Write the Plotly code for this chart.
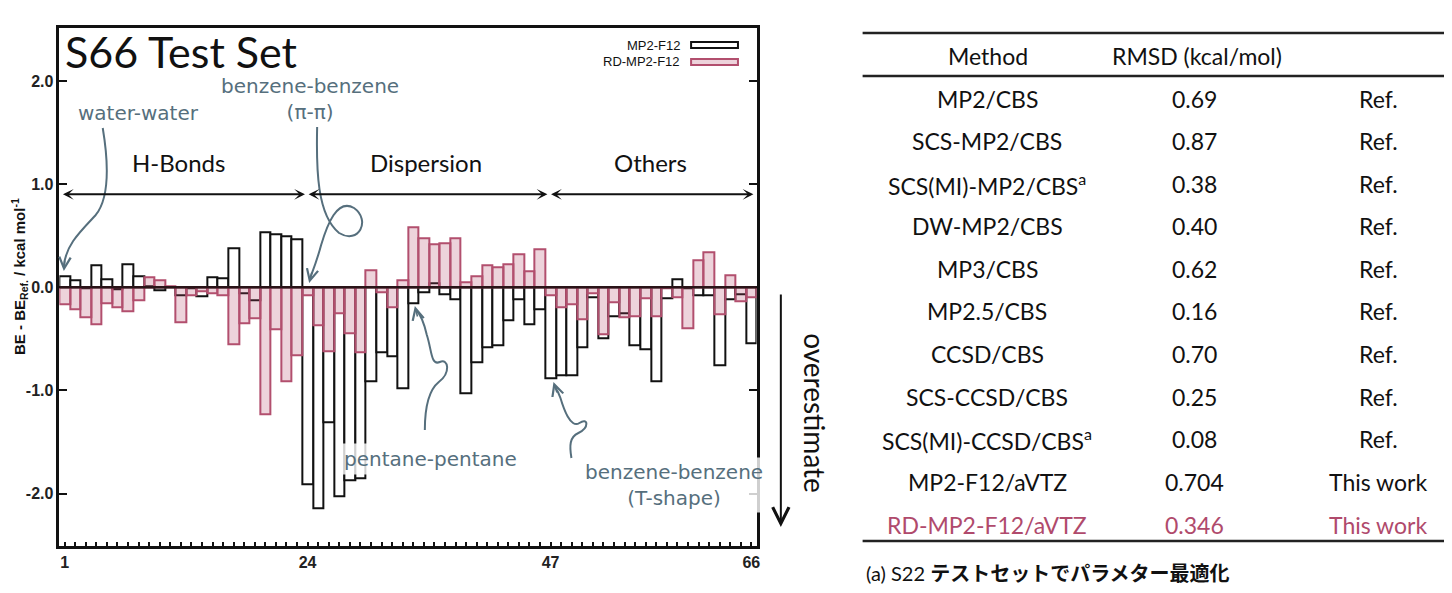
import plotly.graph_objects as go

# The page body has an 8 px margin, so the figure is drawn 8 px in and
# sized so that it fits the 1452x593 window exactly.
OFF = 8
W, H = 1452 - 2 * OFF, 593 - 2 * OFF

# ---------------- data ----------------
system_index = list(range(1, 67))
mp2_f12 = [0.11, 0.07, -0.01, 0.21, 0.08, -0.02, 0.22, 0.11, 0.01, -0.03,
           0.00, -0.08, -0.01, -0.09, 0.10, 0.09, 0.38, -0.06, -0.13, 0.53,
           0.51, 0.49, 0.46, -1.91, -2.14, -1.31, -2.03, -1.87, -1.85, -0.91,
           -0.63, -0.67, -0.98, -0.16, -0.05, 0.04, -0.07, -0.12, -1.03, -0.73,
           -0.58, -0.56, -0.32, -0.12, -0.36, -0.21, -0.88, -0.85, -0.85, -0.58,
           -0.10, -0.50, -0.28, -0.25, -0.56, -0.60, -0.91, -0.11, 0.08, -0.01,
           -0.08, -0.08, -0.76, -0.12, -0.07, -0.54]
rd_mp2_f12 = [-0.17, -0.21, -0.29, -0.36, -0.155, -0.19, -0.23, -0.13, 0.10, 0.07,
              0.01, -0.34, -0.08, -0.04, -0.06, -0.08, -0.55, -0.35, -0.30, -1.23,
              -0.41, -0.91, -0.66, -0.08, -0.37, -0.62, -0.25, -0.45, -0.63, 0.16,
              -0.05, -0.19, 0.07, 0.58, 0.47, 0.42, 0.43, 0.47, 0.05, 0.11,
              0.21, 0.19, 0.22, 0.32, 0.15, 0.37, -0.08, -0.19, -0.17, -0.31,
              -0.06, -0.46, -0.15, -0.29, -0.28, -0.11, -0.28, -0.01, -0.10, -0.40,
              0.26, 0.34, -0.26, 0.12, -0.14, -0.10]
x_tickvals = [1, 24, 47, 66]
y_tickvals = [-2.0, -1.0, 0.0, 1.0, 2.0]
y_ticktext = ["-2.0", "-1.0", "0.0", "1.0", "2.0"]
groups = ["H-Bonds", "Dispersion", "Others"]
group_spans = [(0.7, 23.75), (23.95, 46.7), (46.9, 66.2)]

table_methods = ["MP2/CBS", "SCS-MP2/CBS", "SCS(MI)-MP2/CBS<sup>a</sup>", "DW-MP2/CBS",
                 "MP3/CBS", "MP2.5/CBS", "CCSD/CBS", "SCS-CCSD/CBS",
                 "SCS(MI)-CCSD/CBS<sup>a</sup>", "MP2-F12/aVTZ", "RD-MP2-F12/aVTZ"]
table_rmsd = ["0.69", "0.87", "0.38", "0.40", "0.62", "0.16", "0.70", "0.25",
              "0.08", "0.704", "0.346"]
table_source = ["Ref."] * 9 + ["This work", "This work"]

# ---------------- style ----------------
BLACK = "#111111"
PINK_LINE = "#b24f6e"
PINK_FILL = "rgba(178,70,105,0.24)"
SLATE = "#566f7d"
GILL = "Lato, 'Noto Sans CJK JP', sans-serif"
HAND = "'DejaVu Sans', sans-serif"
ARIAL = "'Liberation Sans', Arial, sans-serif"


def PX(x):
    return (x - OFF) / W


def PY(y):
    return 1 - (y - OFF) / H


def path_px(s):
    parts = []
    for tok in s.split():
        cmd = ""
        if tok[0].isalpha():
            cmd, tok = tok[0], tok[1:]
        xs, ys = tok.split(",")
        parts.append(f"{cmd}{PX(float(xs)):.5f},{PY(float(ys)):.5f}")
    return " ".join(parts)


def text(x, y, t, size, color="#111", family=GILL, xanchor="center", weight=None, **kw):
    f = dict(family=family, size=size, color=color)
    if weight is not None:
        f["weight"] = weight
    return dict(xref="paper", yref="paper", x=PX(x), y=PY(y), text=t,
                showarrow=False, xanchor=xanchor, yanchor="middle", font=f, **kw)


fig = go.Figure()
fig.add_trace(go.Bar(x=system_index, y=mp2_f12, name="MP2-F12", width=1.0,
                     marker=dict(color="white", line=dict(color=BLACK, width=2))))
fig.add_trace(go.Bar(x=system_index, y=rd_mp2_f12, name="RD-MP2-F12", width=1.0,
                     marker=dict(color=PINK_FILL, line=dict(color=PINK_LINE, width=2))))

fig.update_layout(
    width=W, height=H, margin=dict(l=0, r=0, t=0, b=0),
    plot_bgcolor="white", paper_bgcolor="white",
    barmode="overlay", bargap=0, showlegend=False,
    font=dict(family=ARIAL),
    xaxis=dict(domain=[PX(59.5), PX(758.7)], range=[0.5, 66.5],
               tickvals=x_tickvals, ticks="inside", ticklen=4, tickwidth=1.5,
               tickcolor=BLACK, showline=True, linewidth=2.5, linecolor=BLACK,
               mirror=True, showgrid=False, zeroline=False,
               minor=dict(tick0=1, dtick=1, ticks="inside", ticklen=4,
                          tickwidth=1.5, tickcolor=BLACK),
               tickfont=dict(family=ARIAL, size=16, color="#222", weight="bold"),
               layer="above traces"),
    yaxis=dict(domain=[PY(545.7), PY(28.3)], range=[-2.506, 2.51],
               tickvals=y_tickvals, ticktext=y_ticktext, ticks="inside",
               ticklen=8, tickwidth=2, tickcolor=BLACK, showline=True,
               linewidth=2.5, linecolor=BLACK, mirror="ticks", showgrid=False,
               zeroline=False,
               tickfont=dict(family=ARIAL, size=16, color="#222", weight="bold"),
               layer="above traces"),
)

shapes = []
ann = []

# zero line above bars
shapes.append(dict(type="line", xref="x domain", yref="y", x0=0, x1=1, y0=0, y1=0,
                   line=dict(color="#2a1418", width=2.5), layer="above"))

# title
ann.append(text(63, 51, "S66 Test Set", 43, xanchor="left"))

# y title
ann.append(text(19, 276, "<b>BE - BE<sub>Ref.</sub> / kcal mol<sup>-1</sup></b>", 15,
                family=ARIAL, textangle=-90))

# group labels and double arrows
group_centers_px = [179, 427, 652]
for g, (a, b), cx in zip(groups, group_spans, group_centers_px):
    ann.append(dict(xref="x", yref="y", x=b, y=0.90, ax=a, ay=0.90, axref="x",
                    ayref="y", text="", showarrow=True, arrowhead=3,
                    arrowside="end+start", arrowsize=0.9, arrowwidth=2,
                    arrowcolor=BLACK))
    ann.append(text(cx, 163, g, 24))

# legend (manual, text then swatch)
ann.append(text(684, 45, "MP2-F12", 13, family=ARIAL, xanchor="right"))
ann.append(text(684, 62, "RD-MP2-F12", 13, family=ARIAL, xanchor="right"))
shapes.append(dict(type="rect", xref="paper", yref="paper", x0=PX(693), x1=PX(740),
                   y0=PY(48), y1=PY(42), line=dict(color=BLACK, width=2),
                   fillcolor="white", layer="above"))
shapes.append(dict(type="rect", xref="paper", yref="paper", x0=PX(693), x1=PX(740),
                   y0=PY(65), y1=PY(59), line=dict(color=PINK_LINE, width=2),
                   fillcolor=PINK_FILL, layer="above"))

# handwritten annotations
ann.append(text(139, 113, "water-water", 20, color=SLATE, family=HAND, weight=400))
ann.append(text(311, 99, "benzene-benzene<br>(π-π)", 20, color=SLATE, family=HAND,
                weight=400))
ann.append(text(432, 459, "pentane-pentane", 20, color=SLATE, family=HAND, weight=400,
                bgcolor="rgba(255,255,255,0.8)", borderpad=3))
ann.append(text(676, 485, "benzene-benzene<br>(T-shape)", 20, color=SLATE,
                family=HAND, weight=400,
                bgcolor="rgba(255,255,255,0.8)", borderpad=2))

curves = [
    "M103,128 C110,170 108,200 96,215 C80,232 66,245 64,266",
    "M318,127 C317,170 318,215 340,233 C360,245 372,220 355,208 C338,198 328,225 322,245 C318,260 314,270 311,278",
    "M426,430 C426,405 430,390 440,382 C452,373 450,358 441,362 C432,366 433,350 428,335 C425,322 421,314 418,311",
    "M573,458 C571,446 571,437 580,433 C591,428 590,417 581,423 C572,429 565,408 562,398 C560,392 558,389 556,386",
]
for c in curves:
    shapes.append(dict(type="path", xref="paper", yref="paper", path=path_px(c),
                       line=dict(color=SLATE, width=2), layer="above"))
heads = [((64, 271), (1, -12)), ((310, 283), (3, -12)),
         ((416, 306), (3, 12)), ((555, 382), (4, 12))]
for (hx, hy), (dx, dy) in heads:
    ann.append(dict(xref="paper", yref="paper", x=PX(hx), y=PY(hy), ax=dx, ay=dy,
                    text="", showarrow=True, arrowhead=5, arrowsize=1.4,
                    arrowwidth=1.6, arrowcolor=SLATE))

# overestimate arrow
ann.append(dict(xref="paper", yref="paper", x=PX(783), y=PY(527), ax=0, ay=-234,
                text="", showarrow=True, arrowhead=5, arrowsize=1.6, arrowwidth=2,
                arrowcolor=BLACK))
ann.append(text(817, 413, "overestimate", 28, textangle=90))

# ---------------- table ----------------
for yline in (33, 76, 541):
    shapes.append(dict(type="line", xref="paper", yref="paper", x0=PX(865), x1=PX(1460),
                       y0=PY(yline), y1=PY(yline), line=dict(color="#222", width=2.5)))
col_x = [990, 1198, 1382]
ann.append(text(991, 56, "Method", 23))
ann.append(text(1200, 56, "RMSD (kcal/mol)", 23))
row_y = [99, 141, 184, 226, 269, 311, 354, 397, 439, 482, 525]
for i, (m, r, s) in enumerate(zip(table_methods, table_rmsd, table_source)):
    col = "#b04a6c" if m.startswith("RD-") else "#111"
    for cx, t in zip(col_x, (m, r, s)):
        ann.append(text(cx, row_y[i], t, 23, color=col))

ann.append(text(866, 573, "(a) S22 <b>テストセットでパラメター最適化</b>", 20,
                xanchor="left"))

fig.update_layout(shapes=shapes, annotations=ann)
fig.write_html("out.html")
